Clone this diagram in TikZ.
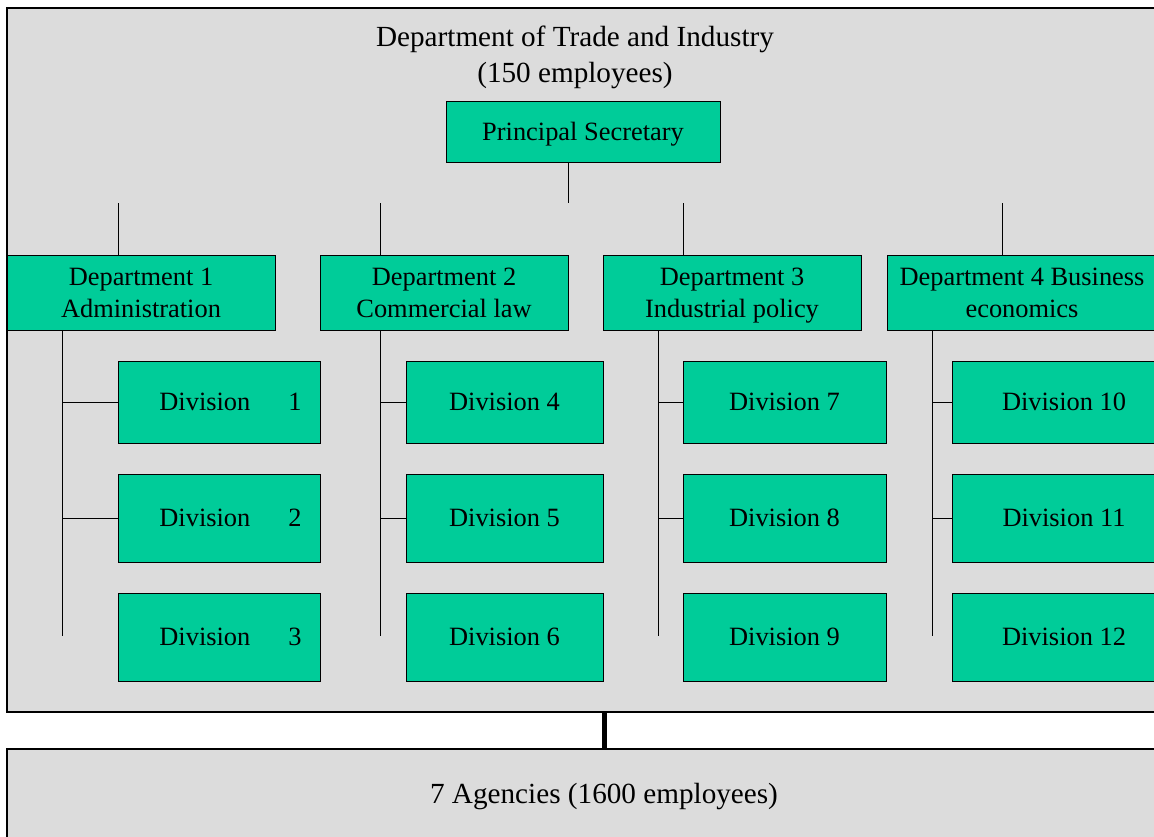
\documentclass[tikz,border=0pt]{standalone}
\usepackage{fontspec}
\setmainfont{Liberation Serif}
\usepackage{xcolor}
\usetikzlibrary{positioning, calc}
\definecolor{boxgreen}{HTML}{00CC99}
\definecolor{boxgrey}{HTML}{DCDCDC}
\newcommand{\vstrut}{\rule[-3.7pt]{0pt}{16pt}}

\begin{document}
\begin{tikzpicture}[x=0.5pt, y=-0.5pt,
	every node/.style={font=\fontsize{13.2}{16}\selectfont, align=center, inner sep=0pt},
	bigtext/.style={font=\fontsize{14.6}{18}\selectfont},
	greybox/.style={draw=black, fill=boxgrey, rectangle, line width=0.6pt},
	dept/.style={draw=black, fill=boxgreen, rectangle, line width=0.5pt, minimum height=37.5pt},
	divn/.style={draw=black, fill=boxgreen, rectangle, line width=0.5pt},
	link/.style={draw=black, line width=0.5pt}]
		\useasboundingbox (0,0) rectangle (1154,836);
		
		\node[greybox, minimum width=597pt, minimum height=352pt] (dti) at (604,360) {};
		\node[greybox, bigtext, minimum width=597pt, minimum height=50.5pt] (agencies) at (604,799.5) {\rule[-6pt]{0pt}{16pt}7 Agencies (1600 employees)};
		\node[bigtext] (title) at (575,57) {Department of Trade and Industry\strut\\(150 employees)\strut};
		\node[dept, minimum width=137pt, minimum height=30.5pt] (ps) at (583,131.5) {Principal Secretary\vstrut};
		
		\node[dept, minimum width=134pt] (d1) at (141,292.5) {Department 1\vstrut\\Administration\vstrut};
		\node[dept, minimum width=124pt] (d2) at (444,292.5) {Department 2\vstrut\\Commercial law\vstrut};
		\node[dept, minimum width=129pt] (d3) at (732,292.5) {Department 3\vstrut\\Industrial policy\vstrut};
		\node[dept, minimum width=135pt] (d4) at (1022,292.5) {Department 4 Business\vstrut\\economics\vstrut};
		
		\node[divn, minimum width=101pt, minimum height=41pt] (v1) at (219,402) {\hspace*{11.5pt}Division\hspace{19pt}1\vstrut};
		\node[divn, minimum width=101pt, minimum height=44pt] (v2) at (219,518) {\hspace*{11.5pt}Division\hspace{19pt}2\vstrut};
		\node[divn, minimum width=101pt, minimum height=44pt] (v3) at (219,637) {\hspace*{11.5pt}Division\hspace{19pt}3\vstrut};
		\node[divn, minimum width=98.5pt, minimum height=41pt] (v4) at (504.5,402) {Division 4\vstrut};
		\node[divn, minimum width=98.5pt, minimum height=44pt] (v5) at (504.5,518) {Division 5\vstrut};
		\node[divn, minimum width=98.5pt, minimum height=44pt] (v6) at (504.5,637) {Division 6\vstrut};
		\node[divn, minimum width=101.5pt, minimum height=41pt] (v7) at (784.5,402) {Division 7\vstrut};
		\node[divn, minimum width=101.5pt, minimum height=44pt] (v8) at (784.5,518) {Division 8\vstrut};
		\node[divn, minimum width=101.5pt, minimum height=44pt] (v9) at (784.5,637) {Division 9\vstrut};
		\node[divn, minimum width=112pt, minimum height=41pt] (v10) at (1064,402) {Division 10\vstrut};
		\node[divn, minimum width=112pt, minimum height=44pt] (v11) at (1064,518) {Division 11\vstrut};
		\node[divn, minimum width=112pt, minimum height=44pt] (v12) at (1064,637) {Division 12\vstrut};
		
		% stubs between secretary and departments
		\coordinate (top) at (568,203);
		\coordinate (r1) at (118,203);
		\coordinate (r2) at (380,203);
		\coordinate (r3) at (683,203);
		\coordinate (r4) at (1002,203);
		\draw[link] (top |- ps.south) -- (top);
		\draw[link] (r1) -- (r1 |- d1.north);
		\draw[link] (r2) -- (r2 |- d2.north);
		\draw[link] (r3) -- (r3 |- d3.north);
		\draw[link] (r4) -- (r4 |- d4.north);
		
		% division spines
		\coordinate (s1) at (62,636);
		\coordinate (s2) at (380,636);
		\coordinate (s3) at (658,636);
		\coordinate (s4) at (932,636);
		\draw[link] (s1 |- d1.south) -- (s1);
		\draw[link] (s2 |- d2.south) -- (s2);
		\draw[link] (s3 |- d3.south) -- (s3);
		\draw[link] (s4 |- d4.south) -- (s4);
		\draw[link] (s1 |- v1.west) -- (v1.west);
		\draw[link] (s1 |- v2.west) -- (v2.west);
		\draw[link] (s2 |- v4.west) -- (v4.west);
		\draw[link] (s2 |- v5.west) -- (v5.west);
		\draw[link] (s3 |- v7.west) -- (v7.west);
		\draw[link] (s3 |- v8.west) -- (v8.west);
		\draw[link] (s4 |- v10.west) -- (v10.west);
		\draw[link] (s4 |- v11.west) -- (v11.west);
		
		\draw[line width=2.5pt] (dti.south) -- (agencies.north);
		
		\end{tikzpicture}
\end{document}
